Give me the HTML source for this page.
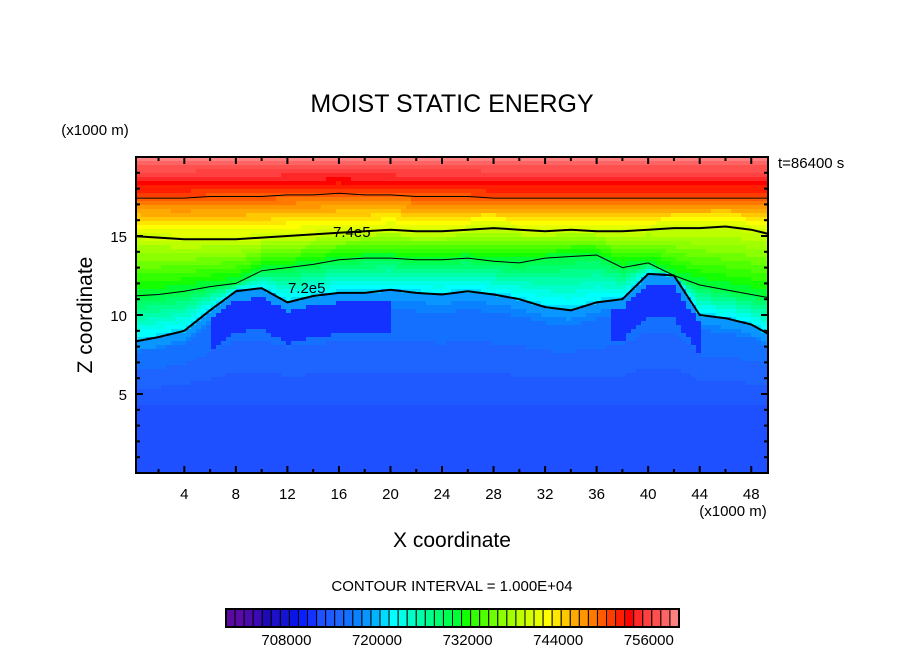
<!DOCTYPE html>
<html><head><meta charset="utf-8">
<style>
body{margin:0;background:#fff;}
svg text{font-family:"Liberation Sans",Arial,sans-serif;fill:#000;}
</style></head>
<body>
<svg id="chart" width="904" height="654" viewBox="0 0 904 654" xmlns="http://www.w3.org/2000/svg">
<defs><clipPath id="plotclip"><rect x="136" y="157" width="632" height="316"/></clipPath></defs>
<text x="452" y="112" font-size="25" text-anchor="middle">MOIST STATIC ENERGY</text>
<text x="95" y="135" font-size="15" text-anchor="middle">(x1000 m)</text>
<text x="778" y="168" font-size="15">t=86400 s</text>
<g id="field" clip-path="url(#plotclip)"></g>
<g id="lines" clip-path="url(#plotclip)"></g>
<rect x="136" y="157" width="632" height="316" fill="none" stroke="#000" stroke-width="2"/>
<g id="ticks"></g>
<text x="733" y="516" font-size="15" text-anchor="middle">(x1000 m)</text>
<text x="452" y="547" font-size="21" text-anchor="middle">X coordinate</text>
<text x="92" y="315" font-size="21" text-anchor="middle" transform="rotate(-90 92 315)">Z coordinate</text>
<text x="452" y="591" font-size="15" text-anchor="middle">CONTOUR INTERVAL = 1.000E+04</text>
<g id="cbar"></g>
</svg>
<script>
// ---- data ----
const xs = [0,2,4,6,8,10,12,14,16,18,20,22,24,26,28,30,32,34,36,38,40,42,44,46,48,50];
const cloudTop = [8.3,8.6,9.0,10.3,11.5,11.7,10.8,11.2,11.4,11.4,11.6,11.4,11.3,11.5,11.3,11.0,10.5,10.3,10.8,11.0,12.6,12.5,10.0,9.8,9.4,8.5]; // 7.2e5
const thinTop = [11.2,11.3,11.5,11.8,12.0,12.8,13.0,13.2,13.5,13.6,13.6,13.5,13.5,13.6,13.4,13.3,13.6,13.7,13.8,13.0,13.3,12.5,11.9,11.6,11.3,11.0]; // 7.3e5
const line74 = [15.0,14.9,14.8,14.8,14.8,14.9,15.0,15.1,15.2,15.3,15.4,15.3,15.3,15.4,15.5,15.4,15.3,15.4,15.3,15.3,15.4,15.5,15.5,15.6,15.4,15.0];
const line75 = [17.4,17.4,17.4,17.5,17.5,17.5,17.6,17.6,17.7,17.6,17.6,17.5,17.5,17.5,17.4,17.4,17.4,17.4,17.4,17.4,17.4,17.4,17.4,17.4,17.4,17.4];
const cbarLabels = [708000,720000,732000,744000,756000];
const xTickLabels = [4,8,12,16,20,24,28,32,36,40,44,48];
const yTickLabels = [5,10,15];
const vmin = 700000, vstep = 1200, nLevels = 50;
const palette = ["#5a0aa0","#5a0aa5","#4b0aaa","#3c0ab4","#1e0ab4","#1e10c8","#1414d2","#0a14e6","#0a1eff","#1432ff","#1e50ff","#1e5aff","#1e64ff","#1470ff","#0a82ff","#0a96ff","#00b4ff","#00dcff","#00ffff","#00ffe6","#00ffc8","#00ffaa","#00ff8c","#00ff6e","#00ff50","#00ff32","#14ff00","#32ff00","#50ff00","#6eff00","#8cff00","#a0ff00","#beff00","#d2ff00","#e6ff00","#ffff00","#ffe600","#ffc800","#ffaa00","#ff9600","#ff7800","#ff5a00","#ff3c00","#ff1e00","#ff0000","#ff2828","#ff4040","#ff5050","#ff6464","#ff8080"];

// ---- axes ----
const X0=136, X1=768, Y0=473, Y1=157, xmin=0.25, xmax=49.3, zmin=0, zmax=20;
const sx = x => X0 + (x-xmin)/(xmax-xmin)*(X1-X0);
const sy = z => Y0 - (z-zmin)/(zmax-zmin)*(Y0-Y1);
const NS="http://www.w3.org/2000/svg";
function mk(tag, attrs, parent){const e=document.createElementNS(NS,tag);for(const k in attrs)e.setAttribute(k,attrs[k]);parent.appendChild(e);return e;}
function interp(arr,x){let i=Math.min(xs.length-2,Math.max(0,Math.floor(x/2)));const t=(x-xs[i])/(xs[i+1]-xs[i]);return arr[i]*(1-t)+arr[i+1]*t;}
function color(v){let k=Math.floor((v-vmin)/vstep);k=Math.max(0,Math.min(nLevels-1,k));return palette[k];}

function value(x,z){
  const b=interp(cloudTop,x), t=interp(thinTop,x), l4=interp(line74,x), l5=interp(line75,x);
  if(z<b){
    let v = z<4 ? 713000 : 713000 + Math.min(1,(z-4)/Math.max(1,b-4))*4500;
    if(z>b-2.6 && ((x>6&&x<20)||(x>37&&x<44))) v=711000;
    if(z>b-0.6) v=718500;
    return v;
  }
  if(z<t) return 721000 + (z-b)/(t-b)*9000;
  if(z<l4) return 730000 + (z-t)/(l4-t)*10000;
  if(z<l5) return 740000 + (z-l4)/(l5-l4)*10000;
  return 750000 + (z-l5)/(zmax-l5)*9800;
}

// ---- field ----
const field=document.getElementById('field');
const cw=5, ch=4;
for(let py=Y1; py<Y0; py+=ch){
  for(let px=X0; px<X1; px+=cw){
    const x = xmin + (px+cw/2-X0)/(X1-X0)*(xmax-xmin);
    const z = zmin + (Y0-(py+ch/2))/(Y0-Y1)*(zmax-zmin);
    const r=mk('rect',{x:px,y:py,width:cw+0.5,height:ch+0.5,fill:color(value(x,z))},field);
    
    
  }
}

// ---- contour lines ----
const lines=document.getElementById('lines');
function drawLine(arr,w,name){
  const pts=xs.map((x,i)=>sx(x).toFixed(1)+','+sy(arr[i]).toFixed(1)).join(' ');
  const p=mk('polyline',{points:pts,fill:'none',stroke:'#000','stroke-width':w},lines);
  
  
}
drawLine(cloudTop,2,'contour-7.2e5');
drawLine(thinTop,1,'contour-7.3e5');
drawLine(line74,2,'contour-7.4e5');
drawLine(line75,1,'contour-7.5e5');
const lb1=mk('text',{x:sx(17),y:sy(interp(line74,17))+5,'font-size':15,'text-anchor':'middle'},lines);
lb1.textContent='7.4e5';


const lb2=mk('text',{x:sx(13.5),y:sy(interp(cloudTop,13.5)+0.6)+5,'font-size':15,'text-anchor':'middle'},lines);
lb2.textContent='7.2e5';



// ---- ticks ----
const ticks=document.getElementById('ticks');
for(let x=2;x<=48;x+=2){
  const L = x%4===0?7:4;
  mk('line',{x1:sx(x),x2:sx(x),y1:Y0,y2:Y0-L,stroke:'#000','stroke-width':2},ticks);
  mk('line',{x1:sx(x),x2:sx(x),y1:Y1,y2:Y1+L,stroke:'#000','stroke-width':2},ticks);
}
for(let z=1;z<20;z++){
  const L = z%5===0?7:4;
  mk('line',{x1:X0,x2:X0+L,y1:sy(z),y2:sy(z),stroke:'#000','stroke-width':2},ticks);
  mk('line',{x1:X1,x2:X1-L,y1:sy(z),y2:sy(z),stroke:'#000','stroke-width':2},ticks);
}
xTickLabels.forEach(v=>{
  const t=mk('text',{x:sx(v),y:499,'font-size':15,'text-anchor':'middle'},ticks);
  t.textContent=v;
  
  
});
yTickLabels.forEach(v=>{
  const t=mk('text',{x:127,y:sy(v)+6,'font-size':15,'text-anchor':'end'},ticks);
  t.textContent=v;
  
  
});

// ---- colorbar ----
const cb=document.getElementById('cbar');
const CB0=226, CB1=679, CBY=609, CBH=18, bw=(CB1-CB0)/nLevels;
palette.forEach((c,i)=>{
  const r=mk('rect',{x:CB0+i*bw,y:CBY,width:bw,height:CBH,fill:c,stroke:'#000','stroke-width':1},cb);
  
  
});
mk('rect',{x:CB0,y:CBY,width:CB1-CB0,height:CBH,fill:'none',stroke:'#000','stroke-width':2},cb);
cbarLabels.forEach(v=>{
  const t=mk('text',{x:CB0+(v-vmin)/vstep*bw,y:645,'font-size':15,'text-anchor':'middle'},cb);
  t.textContent=v;
  
  
});
</script>
</body></html>
